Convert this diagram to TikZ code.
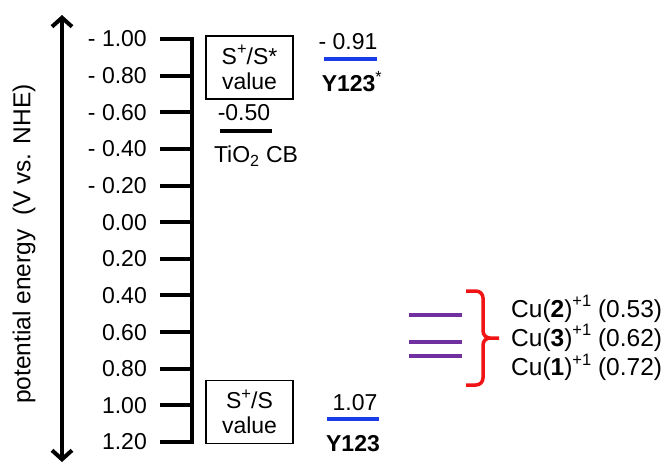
\documentclass[tikz,border=0pt]{standalone}
\usepackage{fontspec}
\setmainfont{Liberation Sans}
\usetikzlibrary{arrows.meta}
\definecolor{lvlblue}{RGB}{25,60,230}
\definecolor{lvlpurple}{RGB}{112,48,160}
\definecolor{bracered}{RGB}{240,20,20}
\newcommand{\supr}[1]{\raisebox{0.42em}{\fontsize{16.5}{16}\selectfont #1}}
\begin{document}
\begin{tikzpicture}[x=1pt,y=-1pt,
  every node/.style={font=\fontsize{23}{25}\selectfont, inner sep=0pt},
  axisline/.style={line width=4pt},
  ticklab/.style={anchor=east},
  valbox/.style={draw, line width=1.2pt, minimum width=87pt, minimum height=63pt, align=center, font=\fontsize{23}{25}\selectfont},
  level/.style={line width=4pt},
  culab/.style={anchor=west, font=\fontsize{24.5}{26}\selectfont},
  lab/.style={anchor=center}]
\useasboundingbox (0,0) rectangle (664,466);

% axis
\coordinate (atop) at (62,15);
\coordinate (abot) at (62,462);
\draw[line width=4pt, {Straight Barb[length=9pt,width=20pt]}-{Straight Barb[length=9pt,width=20pt]}] (atop) -- (abot);
\node[rotate=90, font=\fontsize{24.5}{26}\selectfont] (ylab) at (24,244) {potential energy\ \ (V vs. NHE)};

% scale
\draw[axisline, line join=miter] (160,39) -- (192,39) -- (192,442) -- (160,442);
\foreach \i/\l in {0/{- 1.00},1/{- 0.80},2/{- 0.60},3/{- 0.40},4/{- 0.20},5/{0.00},6/{0.20},7/{0.40},8/{0.60},9/{0.80},10/{1.00},11/{1.20}}{
  \pgfmathsetmacro{\yy}{39+\i*36.64}
  \draw[axisline] (160,\yy) -- (192,\yy);
  \node[ticklab] (t\i) at (147,\yy) {\l};
}

% boxes
\node[valbox] (boxA) at (249.5,67.5) {S\supr{+}/S*\\value};
\node[valbox] (boxB) at (249.5,412) {S\supr{+}/S\\value};

% TiO2
\node[lab] (tio) at (244,113) {-0.50};
\coordinate (tiol) at (220,131);
\coordinate (tior) at (272,131);
\draw[level] (tiol) -- (tior);
\node[lab] (tiolab) at (256,156) {TiO\textsubscript{2} CB};

% Y123*
\node[lab] (yst) at (348,42) {- 0.91};
\coordinate (ystl) at (324,59);
\coordinate (ystr) at (377,59);
\draw[level, lvlblue] (ystl) -- (ystr);
\node[lab] (ystlab) at (352,82) {\textbf{Y123}\textsuperscript{*}};

% Y123
\node[lab] (y) at (355,403) {1.07};
\coordinate (yl) at (327,419);
\coordinate (yr) at (379,419);
\draw[level, lvlblue] (yl) -- (yr);
\node[lab] (ylab) at (353,444) {\textbf{Y123}};

% Cu levels
\foreach \n/\yy in {a/315,b/342,c/356}{
  \coordinate (cu\n l) at (409,\yy);
  \coordinate (cu\n r) at (462,\yy);
  \draw[level, lvlpurple] (cu\n l) -- (cu\n r);
}

% brace
\draw[bracered, line width=3.5pt, line cap=butt]
  (466,291) -- (476,291) to[out=0,in=90] (483,298) -- (483,331) to[out=-90,in=180] (490,338) -- (499,338);
\draw[bracered, line width=3.5pt, line cap=butt]
  (490,338) to[out=180,in=90] (483,345) -- (483,378) to[out=-90,in=0] (476,385) -- (466,385);

% Cu labels
\node[culab] (cu2) at (511,309) {Cu(\textbf{2})\supr{+1} (0.53)};
\node[culab] (cu3) at (511,338) {Cu(\textbf{3})\supr{+1} (0.62)};
\node[culab] (cu1) at (511,367) {Cu(\textbf{1})\supr{+1} (0.72)};
\end{tikzpicture}
\end{document}
